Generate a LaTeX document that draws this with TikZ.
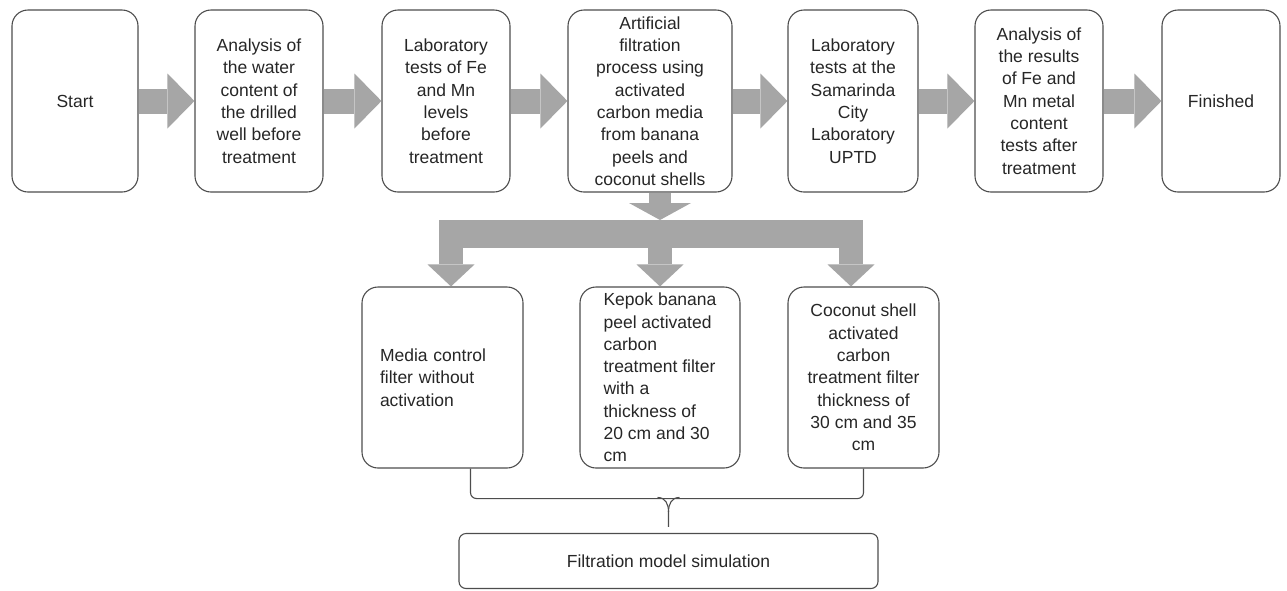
\documentclass[tikz,border=0pt]{standalone}
\usepackage{fontspec}
\setmainfont{Liberation Sans}
\usetikzlibrary{arrows.meta}
\definecolor{flowgray}{HTML}{A6A6A6}
\definecolor{edgegray}{HTML}{4D4D4D}

\begin{document}
\begin{tikzpicture}[x=1pt,y=-1pt,
  box/.style={draw=edgegray,line width=1.1pt,rounded corners=16pt,minimum height=182pt,
    inner sep=0pt,align=center,text=black!85,font=\fontsize{17.5}{22.3}\selectfont},
  fat/.style={draw=flowgray,line width=25pt,-{Triangle[length=27pt,width=55pt,line width=0pt]}},
  fatdown/.style={draw=flowgray,line width=24pt,-{Triangle[length=22pt,width=47pt,line width=0pt]}},
  link/.style={draw=edgegray,line width=1.1pt}]
\useasboundingbox (0,0) rectangle (1287,590);

% top row
\node[box,minimum width=126pt] (start) at (75,101) {Start};
\node[box,minimum width=128pt] (analysis) at (259,101) {Analysis of\\the water\\content of\\the drilled\\well before\\treatment};
\node[box,minimum width=128pt] (labtest) at (446,101) {Laboratory\\tests of Fe\\and Mn\\levels\\before\\treatment};
\node[box,minimum width=164pt] (filter) at (650,101) {Artificial\\filtration\\process using\\activated\\carbon media\\from banana\\peels and\\coconut shells};
\node[box,minimum width=130pt] (uptd) at (853,101) {Laboratory\\tests at the\\Samarinda\\City\\Laboratory\\UPTD};
\node[box,minimum width=128pt] (results) at (1039,101) {Analysis of\\the results\\of Fe and\\Mn metal\\content\\tests after\\treatment};
\node[box,minimum width=118pt] (finished) at (1221,101) {Finished};

\foreach \a/\b in {start/analysis,analysis/labtest,labtest/filter,filter/uptd,uptd/results,results/finished}
  \draw[fat] (\a) -- (\b);

% media variants
\node[box,minimum width=161pt,minimum height=181pt,text width=125pt,align=left] (media) at (442.5,377.5) {Media control\\filter without\\activation};
\node[box,minimum width=160pt,minimum height=181pt,align=left] (kepok) at (660,377.5) {Kepok banana\\peel activated\\carbon\\treatment filter\\with a\\thickness of\\20 cm and 30\\cm};
\node[box,minimum width=151pt,minimum height=181pt] (coconut) at (863.5,377.5) {Coconut shell\\activated\\carbon\\treatment filter\\thickness of\\30 cm and 35\\cm};
\node[box,minimum width=419pt,minimum height=55pt,rounded corners=7pt] (sim) at (668.5,561) {Filtration model simulation};

% split
\coordinate (split) at (660,220);
\coordinate (bl) at (451,220);
\coordinate (br) at (851,220);
\draw[draw=flowgray,line width=28pt] (439,234) -- (863,234);
\draw[draw=flowgray,line width=22pt,-{Triangle[length=17pt,width=62pt,line width=0pt]}] (filter.south -| split) -- (split);
\draw[fatdown] (bl) -- (bl |- media.north);
\draw[fatdown] (split) -- (split |- kepok.north);
\draw[fatdown] (br) -- (br |- coconut.north);

% brace
\coordinate (tip) at ([yshift=6pt]sim.north);
\draw[link,rounded corners=6pt] ([xshift=28pt]media.south) -- ++(0,30) -| (coconut.south);
\draw[link] (tip) -- ++(0,-15) .. controls +(0,-8) and +(8,0) .. ++(-11,-14.5);
\draw[link] (tip) ++(0,-15) .. controls +(0,-8) and +(-8,0) .. ++(11,-14.5);
\end{tikzpicture}
\end{document}
